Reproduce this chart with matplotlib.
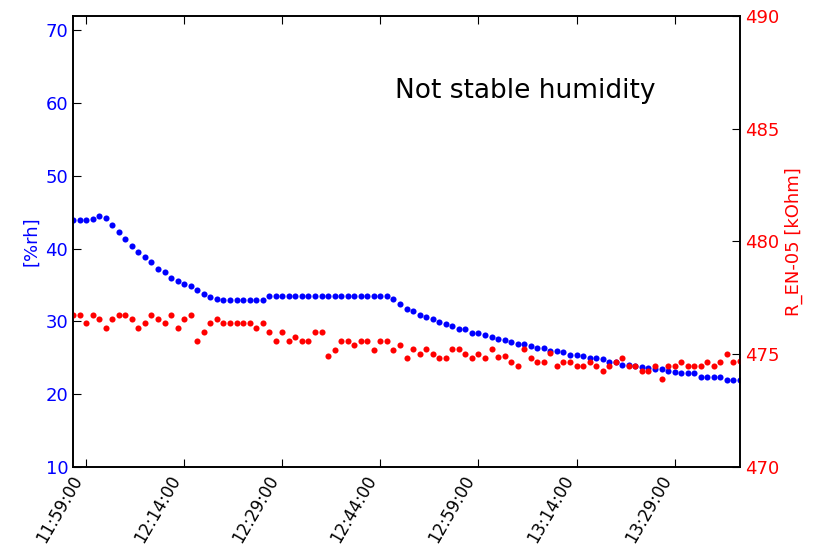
import datetime as dt
import numpy as np
import matplotlib
matplotlib.use('Agg')
import matplotlib.pyplot as plt
import matplotlib.dates as mdates

# one sample per minute, 11:57 .. 13:39
t_start = dt.datetime(2014, 1, 1, 11, 57)
n_samples = 103
times = [t_start + dt.timedelta(minutes=k) for k in range(n_samples)]

humidity = [
    44.0, 44.0, 44.0, 44.1, 44.5, 44.2, 43.3, 42.3, 41.3, 40.3,
    39.6, 38.8, 38.1, 37.2, 36.8, 36.0, 35.6, 35.1, 34.8, 34.3,
    33.8, 33.4, 33.1, 33.0, 33.0, 33.0, 33.0, 33.0, 33.0, 33.0,
    33.5, 33.5, 33.5, 33.5, 33.5, 33.5, 33.5, 33.5, 33.5, 33.5,
    33.5, 33.5, 33.5, 33.5, 33.5, 33.5, 33.5, 33.5, 33.5, 33.1,
    32.4, 31.7, 31.4, 30.9, 30.6, 30.3, 29.9, 29.6, 29.4, 28.9,
    28.9, 28.4, 28.4, 28.1, 27.9, 27.6, 27.4, 27.2, 26.9, 26.9,
    26.6, 26.4, 26.4, 26.0, 26.0, 25.8, 25.45, 25.4, 25.3, 25.0,
    25.0, 24.8, 24.4, 24.4, 24.0, 24.0, 23.9, 23.8, 23.6, 23.4,
    23.4, 23.25, 23.1, 22.9, 22.9, 22.9, 22.4, 22.4, 22.4, 22.4,
    21.9, 21.9, 21.9,
]

resistance = [
    476.74, 476.74, 476.36, 476.74, 476.55, 476.16, 476.55, 476.74, 476.74, 476.55,
    476.16, 476.36, 476.74, 476.55, 476.36, 476.74, 476.16, 476.55, 476.74, 475.60,
    475.97, 476.36, 476.55, 476.36, 476.36, 476.36, 476.36, 476.36, 476.16, 476.36,
    475.97, 475.59, 475.97, 475.59, 475.78, 475.59, 475.59, 475.97, 475.97, 474.90,
    475.20, 475.59, 475.59, 475.39, 475.59, 475.59, 475.20, 475.59, 475.59, 475.20,
    475.40, 474.83, 475.21, 475.02, 475.21, 475.02, 474.83, 474.83, 475.21, 475.21,
    475.02, 474.83, 475.02, 474.83, 475.21, 474.86, 474.92, 474.65, 474.46, 475.21,
    474.83, 474.65, 474.65, 475.03, 474.46, 474.65, 474.65, 474.46, 474.46, 474.65,
    474.46, 474.27, 474.46, 474.65, 474.83, 474.46, 474.46, 474.27, 474.27, 474.46,
    473.88, 474.46, 474.46, 474.65, 474.46, 474.46, 474.46, 474.65, 474.46, 474.65,
    475.02, 474.65, 474.70,
]

fig = plt.figure(figsize=(8.15, 5.48), dpi=100)
ax = fig.add_axes([0.0896, 0.148, 0.8184, 0.823])
ax2 = ax.twinx()

ax.plot(times, humidity, 'o', color='blue', markersize=4.4, markeredgewidth=0)
ax2.plot(times, resistance, 'o', color='red', markersize=4.4, markeredgewidth=0)

ax.set_xlim(times[0], times[-1])
ax.set_ylim(10, 72)
ax2.set_ylim(470, 490)
ax.set_yticks(np.arange(10, 71, 10))
ax2.set_yticks(np.arange(470, 491, 5))

first_tick = dt.datetime(2014, 1, 1, 11, 59)
ax.set_xticks([first_tick + dt.timedelta(minutes=15 * k) for k in range(7)])
ax.xaxis.set_major_formatter(mdates.DateFormatter('%H:%M:%S'))
for lab in ax.get_xticklabels():
    lab.set_rotation(60)
    lab.set_ha('right')
    lab.set_va('top')

ax.tick_params(axis='x', direction='in', top=True, length=6, labelsize=12,
               pad=4)
ax.tick_params(axis='y', direction='in', length=6, labelsize=13,
               labelcolor='blue')
ax2.tick_params(axis='y', direction='in', length=6, labelsize=13,
                labelcolor='red')

ax.set_ylabel('[%rh]', color='blue', fontsize=13)
ax2.set_ylabel('R_EN-05 [kOhm]', color='red', fontsize=13)

for a in (ax, ax2):
    for sp in a.spines.values():
        sp.set_linewidth(1.2)

ax.text(0.483, 0.833, 'Not stable humidity', transform=ax.transAxes,
        fontsize=19, ha='left', va='center')

fig.savefig('out.png', dpi=100)
